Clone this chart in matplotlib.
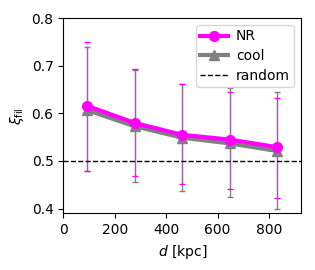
import numpy as np
import matplotlib
matplotlib.use("Agg")
import matplotlib.pyplot as plt

# bin centres [kpc]
d = [92.5, 277.5, 462.5, 647.5, 832.5]

nr = [0.616, 0.580, 0.555, 0.545, 0.529]
nr_hi = [0.750, 0.693, 0.662, 0.646, 0.633]
nr_lo = [0.480, 0.468, 0.451, 0.442, 0.423]

cool = [0.607, 0.573, 0.549, 0.537, 0.521]
cool_hi = [0.740, 0.692, 0.661, 0.653, 0.645]
cool_lo = [0.480, 0.456, 0.437, 0.424, 0.400]

random_level = 0.5

fig = plt.figure(figsize=(3.15, 2.7), dpi=100)
ax = fig.add_axes([0.201, 0.21, 0.755, 0.722])

nr_err = [np.array(nr) - np.array(nr_lo), np.array(nr_hi) - np.array(nr)]
cool_err = [np.array(cool) - np.array(cool_lo), np.array(cool_hi) - np.array(cool)]

ax.errorbar(d, cool, yerr=cool_err, fmt='none', ecolor='grey',
            elinewidth=1, capsize=2.5, zorder=2)
eb = ax.errorbar(d, nr, yerr=nr_err, fmt='none', ecolor='magenta',
                 elinewidth=1, capsize=2.5, zorder=2.5)
for bars in eb[2]:
    bars.set_alpha(0.25)

ax.plot(d, cool, color='grey', marker='^', ms=7, lw=3, label='cool', zorder=3)
ax.plot(d, nr, color='magenta', marker='o', ms=7, lw=3, label='NR', zorder=4)
ax.axhline(random_level, color='k', ls='--', lw=1, label='random')

handles, labels = ax.get_legend_handles_labels()
order = [labels.index('NR'), labels.index('cool'), labels.index('random')]
ax.legend([handles[i] for i in order], [labels[i] for i in order],
          loc='upper right', fontsize=10, borderpad=0.3, handletextpad=0.6,
          labelspacing=0.4)

ax.set_xlim(0, 925)
ax.set_ylim(0.39, 0.8)
ax.set_yticks([0.4, 0.5, 0.6, 0.7, 0.8])
ax.set_xticks([0, 200, 400, 600, 800])
ax.tick_params(labelsize=10)
ax.set_xlabel(r'$d$ [kpc]', fontsize=10)
ax.set_ylabel(r'$\xi_{\rm fil}$', fontsize=10)

fig.savefig('out.png', dpi=100)
